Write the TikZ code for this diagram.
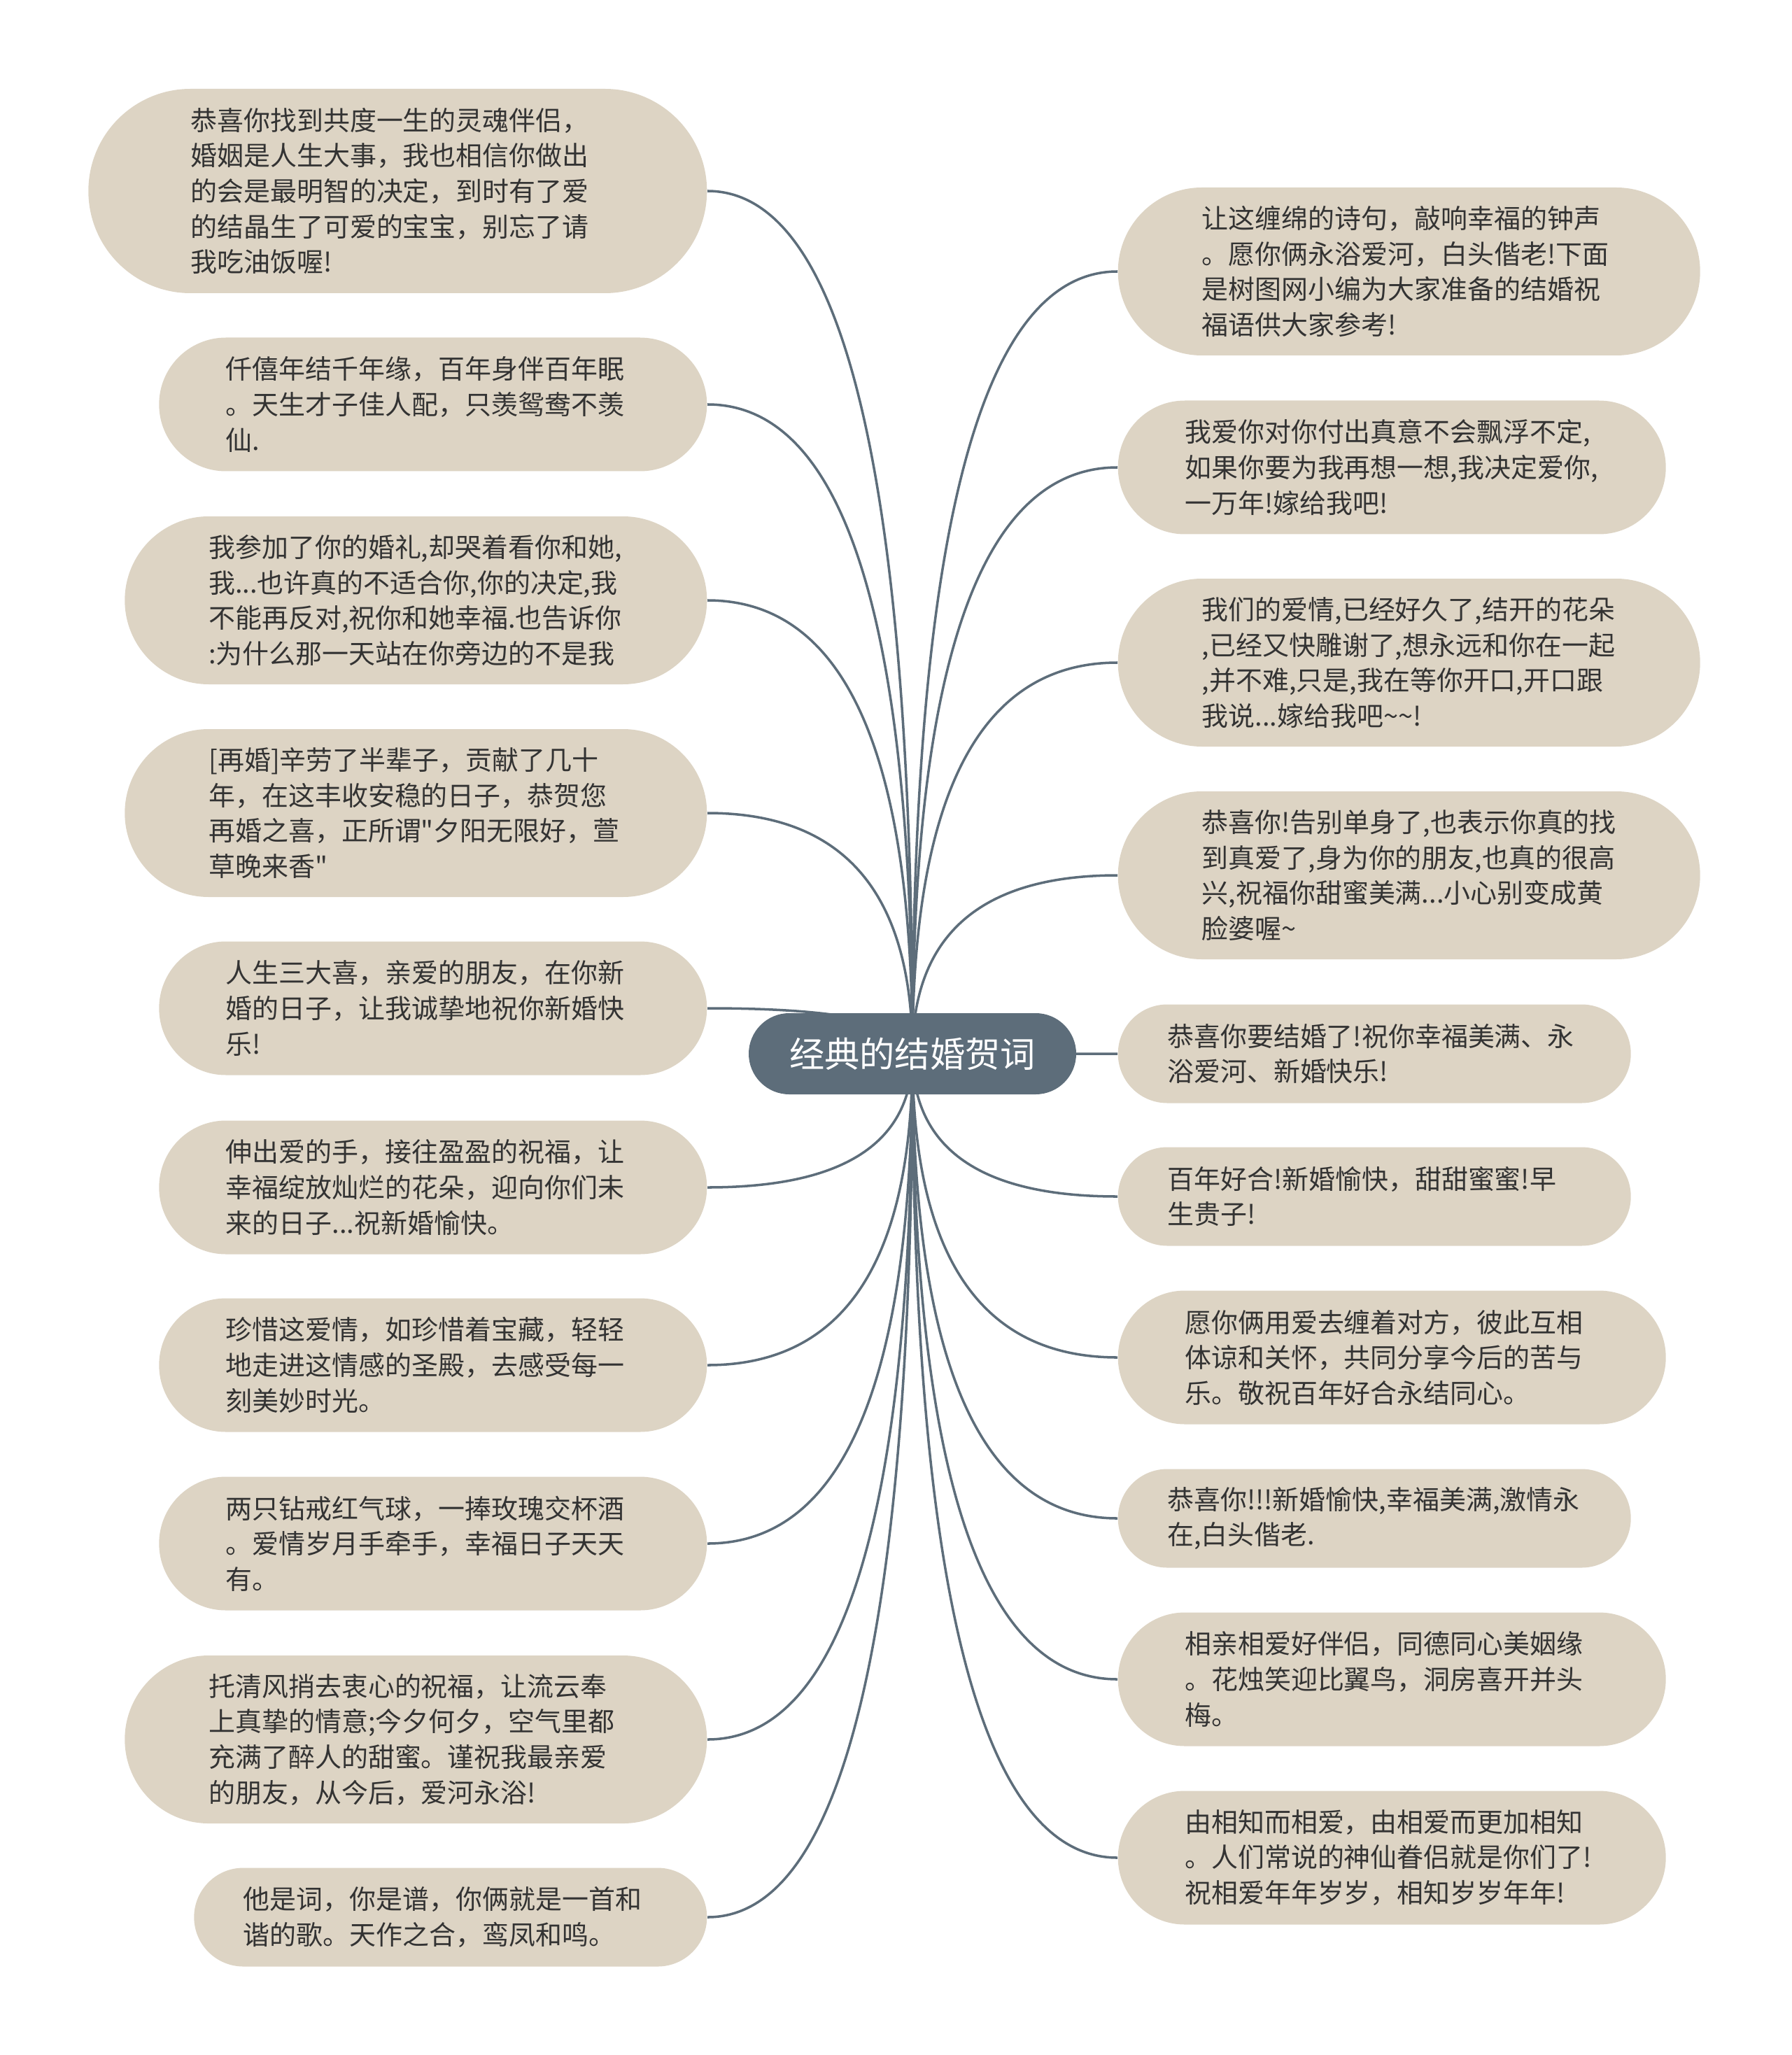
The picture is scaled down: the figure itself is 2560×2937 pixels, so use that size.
\documentclass[tikz,border=0pt]{standalone}
\usepackage{fontspec}
\usepackage{tikz}
\usetikzlibrary{positioning,calc,backgrounds,shapes.misc}
\newfontfamily\cjk{Noto Sans CJK SC}
\definecolor{trunk}{HTML}{5D6D7A}
\definecolor{petal}{HTML}{DDD4C4}
\definecolor{ink}{HTML}{333333}

\begin{document}
\begin{tikzpicture}[
      x=0.1mm, y=-0.1mm,
      font=\cjk,
      leaf/.style={rounded rectangle, fill=petal, text=ink,
                   text width=59.2mm, align=left,
                   inner xsep=0pt, inner ysep=1mm,
                   font=\cjk\fontsize{10.8pt}{14.4pt}\selectfont},
      twoline/.style={leaf, minimum height=14.1mm, minimum width=73.3mm},
      threeline/.style={leaf, minimum height=19.1mm, minimum width=78.3mm},
      fourline/.style={leaf, minimum height=24.0mm, minimum width=83.2mm},
      fiveline/.style={leaf, minimum height=29.2mm, minimum width=88.4mm},
      topic/.style={rounded rectangle, fill=trunk, text=white,
                    minimum height=11.6mm, minimum width=47.4mm,
                    inner xsep=0.3mm,
                    font=\cjk\fontsize{14.3pt}{17pt}\selectfont},
      branch/.style={draw=trunk, line width=1pt,
        to path={.. controls ($(\tikztostart)!2/3!(\tikztostart |- \tikztotarget)$)
                     and ($(\tikztotarget)!2/3!(\tikztostart |- \tikztotarget)$)
                  .. (\tikztotarget)}}
    ]
    \path[use as bounding box] (0,0) rectangle (2560,2937);

    \node[topic] (title) at (1304,1506) {经典的结婚贺词};

    % left column, right edges lined up
    \node[fiveline, anchor=east] (l1) at (1011,273)
      {恭喜你找到共度一生的灵魂伴侣，\\婚姻是人生大事，我也相信你做出\\的会是最明智的决定，到时有了爱\\的结晶生了可爱的宝宝，别忘了请\\我吃油饭喔!};
    \node[threeline, anchor=east] (l2) at (1011,578)
      {仟僖年结千年缘，百年身伴百年眠\\。天生才子佳人配，只羡鸳鸯不羡\\仙.};
    \node[fourline, anchor=east] (l3) at (1011,858)
      {我参加了你的婚礼,却哭着看你和她,\\我...也许真的不适合你,你的决定,我\\不能再反对,祝你和她幸福.也告诉你\\:为什么那一天站在你旁边的不是我};
    \node[fourline, anchor=east] (l4) at (1011,1162)
      {[再婚]辛劳了半辈子，贡献了几十\\年，在这丰收安稳的日子，恭贺您\\再婚之喜，正所谓"夕阳无限好，萱\\草晚来香"};
    \node[threeline, anchor=east] (l5) at (1011,1441)
      {人生三大喜，亲爱的朋友，在你新\\婚的日子，让我诚挚地祝你新婚快\\乐!};
    \node[threeline, anchor=east] (l6) at (1011,1697)
      {伸出爱的手，接往盈盈的祝福，让\\幸福绽放灿烂的花朵，迎向你们未\\来的日子...祝新婚愉快。};
    \node[threeline, anchor=east] (l7) at (1011,1951)
      {珍惜这爱情，如珍惜着宝藏，轻轻\\地走进这情感的圣殿，去感受每一\\刻美妙时光。};
    \node[threeline, anchor=east] (l8) at (1011,2206)
      {两只钻戒红气球，一捧玫瑰交杯酒\\。爱情岁月手牵手，幸福日子天天\\有。};
    \node[fourline, anchor=east] (l9) at (1011,2486)
      {托清风捎去衷心的祝福，让流云奉\\上真挚的情意;今夕何夕，空气里都\\充满了醉人的甜蜜。谨祝我最亲爱\\的朋友，从今后，爱河永浴!};
    \node[twoline, anchor=east] (l10) at (1011,2740)
      {他是词，你是谱，你俩就是一首和\\谐的歌。天作之合，鸾凤和鸣。};

    % right column, left edges lined up
    \node[fourline, anchor=west] (r1) at (1597,388)
      {让这缠绵的诗句，敲响幸福的钟声\\。愿你俩永浴爱河，白头偕老!下面\\是树图网小编为大家准备的结婚祝\\福语供大家参考!};
    \node[threeline, anchor=west] (r2) at (1597,668)
      {我爱你对你付出真意不会飘浮不定,\\如果你要为我再想一想,我决定爱你,\\一万年!嫁给我吧!};
    \node[fourline, anchor=west] (r3) at (1597,947)
      {我们的爱情,已经好久了,结开的花朵\\,已经又快雕谢了,想永远和你在一起\\,并不难,只是,我在等你开口,开口跟\\我说...嫁给我吧\textasciitilde\textasciitilde!};
    \node[fourline, anchor=west] (r4) at (1597,1251)
      {恭喜你!告别单身了,也表示你真的找\\到真爱了,身为你的朋友,也真的很高\\兴,祝福你甜蜜美满...小心别变成黄\\脸婆喔\textasciitilde};
    \node[twoline, anchor=west] (r5) at (1597,1506)
      {恭喜你要结婚了!祝你幸福美满、永\\浴爱河、新婚快乐!};
    \node[twoline, anchor=west] (r6) at (1597,1710)
      {百年好合!新婚愉快，甜甜蜜蜜!早\\生贵子!};
    \node[threeline, anchor=west] (r7) at (1597,1940)
      {愿你俩用爱去缠着对方，彼此互相\\体谅和关怀，共同分享今后的苦与\\乐。敬祝百年好合永结同心。};
    \node[twoline, anchor=west] (r8) at (1597,2170)
      {恭喜你!!!新婚愉快,幸福美满,激情永\\在,白头偕老.};
    \node[threeline, anchor=west] (r9) at (1597,2400)
      {相亲相爱好伴侣，同德同心美姻缘\\。花烛笑迎比翼鸟，洞房喜开并头\\梅。};
    \node[threeline, anchor=west] (r10) at (1597,2655)
      {由相知而相爱，由相爱而更加相知\\。人们常说的神仙眷侣就是你们了!\\祝相爱年年岁岁，相知岁岁年年!};

    \begin{scope}[on background layer]
      \draw[branch] (title.center) to (l1.east);
      \draw[branch] (title.center) to (l2.east);
      \draw[branch] (title.center) to (l3.east);
      \draw[branch] (title.center) to (l4.east);
      \draw[branch] (title.center) to (l5.east);
      \draw[branch] (title.center) to (l6.east);
      \draw[branch] (title.center) to (l7.east);
      \draw[branch] (title.center) to (l8.east);
      \draw[branch] (title.center) to (l9.east);
      \draw[branch] (title.center) to (l10.east);
      \draw[branch] (title.center) to (r1.west);
      \draw[branch] (title.center) to (r2.west);
      \draw[branch] (title.center) to (r3.west);
      \draw[branch] (title.center) to (r4.west);
      \draw[branch] (title.center) to (r5.west);
      \draw[branch] (title.center) to (r6.west);
      \draw[branch] (title.center) to (r7.west);
      \draw[branch] (title.center) to (r8.west);
      \draw[branch] (title.center) to (r9.west);
      \draw[branch] (title.center) to (r10.west);
    \end{scope}

  \end{tikzpicture}
\end{document}
